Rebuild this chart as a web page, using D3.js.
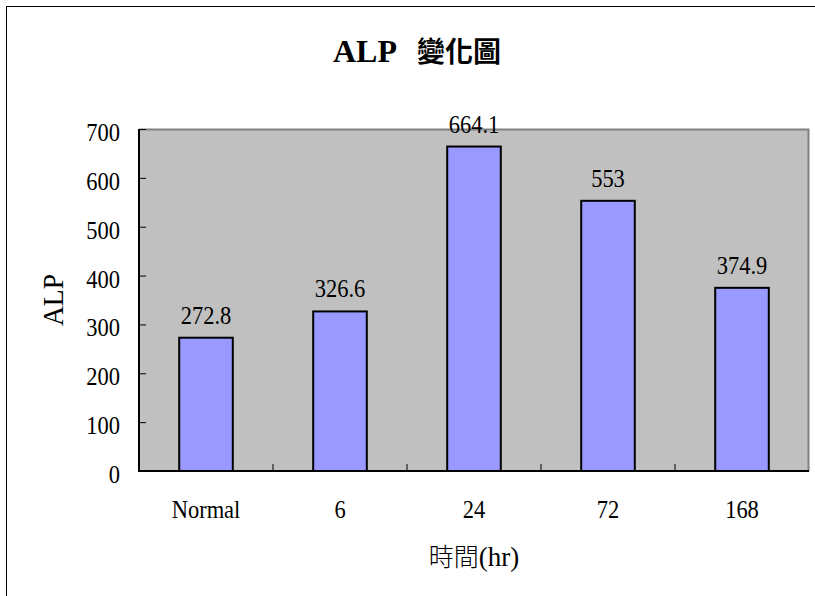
<!DOCTYPE html>
<html>
<head>
<meta charset="utf-8">
<script src="https://cdn.jsdelivr.net/npm/d3@7"></script>
<style>
  html, body { margin: 0; padding: 0; background: #fff; }
  svg { display: block; }
  text { font-family: "Liberation Serif", "DejaVu Serif", serif; fill: #000; }
</style>
</head>
<body>
<svg id="chart" width="815" height="596"></svg>
<script>
// ALP level over time
const categories = ["Normal", "6", "24", "72", "168"];
const alpValues = [272.8, 326.6, 664.1, 553, 374.9];
const yTicks = [0, 100, 200, 300, 400, 500, 600, 700];

const svg = d3.select("#chart");
const W = 815, H = 596;
const plot = { left: 139, right: 809, top: 129, bottom: 471 };
const LABEL_SIZE = 25, SQUEEZE = 0.9; // narrow, tall numerals

// outer chart frame
svg.append("rect")
  .attr("x", 6.5).attr("y", 6.5)
  .attr("width", W + 10).attr("height", H + 10)
  .attr("fill", "#fff").attr("stroke", "#000").attr("stroke-width", 1);

const x = d3.scaleBand()
  .domain(categories)
  .range([plot.left, plot.right])
  .paddingInner(0.6)
  .paddingOuter(0.3);

const y = d3.scaleLinear()
  .domain([0, 700])
  .range([plot.bottom, plot.top]);

// plot area background
svg.append("rect")
  .attr("x", plot.left).attr("y", plot.top)
  .attr("width", plot.right - plot.left)
  .attr("height", plot.bottom - plot.top)
  .attr("fill", "#C0C0C0");

// top and right border of plot area
svg.append("path")
  .attr("d", `M${plot.left},${plot.top + 0.5}H${plot.right - 0.5}V${plot.bottom}`)
  .attr("fill", "none").attr("stroke", "#808080").attr("stroke-width", 2);

// bars
svg.append("g").selectAll("rect")
  .data(categories)
  .join("rect")
  .attr("x", d => x(d))
  .attr("y", (d, i) => y(alpValues[i]))
  .attr("width", x.bandwidth())
  .attr("height", (d, i) => y(0) - y(alpValues[i]))
  .attr("fill", "#9999FF")
  .attr("stroke", "#000")
  .attr("stroke-width", 2);

// places a squeezed label at (px, py)
function squeezed(sel, px, py) {
  return sel.attr("transform", (d, i) => `translate(${px(d, i)},${py(d, i)}) scale(${SQUEEZE},1)`)
    .attr("font-size", LABEL_SIZE);
}

// value labels
svg.append("g").selectAll("text")
  .data(categories)
  .join("text")
  .call(squeezed, d => x(d) + x.bandwidth() / 2, (d, i) => y(alpValues[i]) - 14)
  .attr("text-anchor", "middle")
  .text((d, i) => String(alpValues[i]));

// y axis
const yAxis = svg.append("g")
  .attr("transform", `translate(${plot.left},0)`)
  .call(d3.axisRight(y).tickValues(yTicks).tickSize(7).tickFormat(""));
yAxis.select(".domain").remove();
yAxis.selectAll(".tick line").attr("stroke", "#000").attr("stroke-width", 1);
svg.append("line")
  .attr("x1", plot.left).attr("x2", plot.left)
  .attr("y1", plot.top).attr("y2", plot.bottom + 1)
  .attr("stroke", "#000").attr("stroke-width", 2);

svg.append("g").selectAll("text")
  .data(yTicks)
  .join("text")
  .call(squeezed, () => 120, d => y(d) + 4)
  .attr("dy", "0.32em")
  .attr("text-anchor", "end")
  .text(d => d);

// x axis: ticks at category boundaries
const boundaries = categories.slice(1).map(c => x(c) - x.step() * x.paddingInner() / 2);
svg.append("g").selectAll("line")
  .data(boundaries)
  .join("line")
  .attr("x1", d => d).attr("x2", d => d)
  .attr("y1", plot.bottom).attr("y2", plot.bottom - 7)
  .attr("stroke", "#000").attr("stroke-width", 1);
svg.append("line")
  .attr("x1", plot.left - 1).attr("x2", plot.right)
  .attr("y1", plot.bottom).attr("y2", plot.bottom)
  .attr("stroke", "#000").attr("stroke-width", 2);

svg.append("g").selectAll("text")
  .data(categories)
  .join("text")
  .call(squeezed, d => x(d) + x.bandwidth() / 2, () => 509)
  .attr("dy", "0.35em")
  .attr("text-anchor", "middle")
  .text(d => d);

// axis titles
svg.append("text")
  .attr("transform", "translate(63,300) rotate(-90) scale(0.95,1)")
  .attr("text-anchor", "middle")
  .attr("font-size", 29)
  .text("ALP");

const xTitle = svg.append("text")
  .attr("x", (plot.left + plot.right) / 2)
  .attr("y", 566)
  .attr("text-anchor", "middle")
  .attr("font-size", 27);
xTitle.append("tspan")
  .style("font-family", '"Noto Sans CJK TC", "Noto Sans CJK SC", sans-serif')
  .attr("font-size", 25)
  .attr("font-weight", 300)
  .text("時間");
xTitle.append("tspan").text("(hr)");

// chart title
const title = svg.append("text")
  .attr("x", 417)
  .attr("y", 62)
  .attr("text-anchor", "middle")
  .attr("font-weight", "bold")
  .attr("font-size", 32);
title.append("tspan").text("ALP");
title.append("tspan")
  .attr("dx", 20)
  .style("font-family", '"Noto Sans CJK TC", "Noto Sans CJK SC", sans-serif')
  .attr("font-size", 28)
  .text("變化圖");
</script>
</body>
</html>
